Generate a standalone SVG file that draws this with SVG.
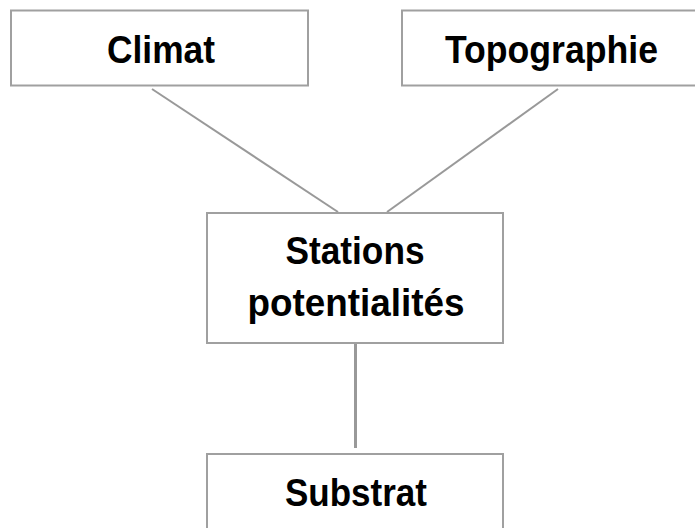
<svg xmlns="http://www.w3.org/2000/svg" width="695" height="528" viewBox="0 0 695 528">
<style>
.box{fill:#fff;stroke:#a0a0a0;stroke-width:2}
.lbl{font-family:"Liberation Sans",Arial,sans-serif;font-weight:bold;font-size:38px;fill:#000;text-anchor:middle}
.conn{stroke:#999;stroke-width:2;fill:none}
</style>
<rect width="695" height="528" fill="#fff"/>
<g id="connectors">
<line class="conn" x1="152" y1="89" x2="338" y2="212"/>
<line class="conn" x1="558" y1="89" x2="387" y2="212"/>
<line class="conn" x1="355.5" y1="339" x2="355.5" y2="448" style="stroke-width:3"/>
</g>
<g id="climat">
<rect class="box" x="11" y="10.5" width="297" height="75"/>
<text class="lbl" x="161" y="63" textLength="108" lengthAdjust="spacingAndGlyphs">Climat</text>
</g>
<g id="topographie">
<rect class="box" x="402" y="10.5" width="300" height="75"/>
<text class="lbl" x="551.5" y="63" textLength="213" lengthAdjust="spacingAndGlyphs">Topographie</text>
</g>
<g id="stations">
<rect class="box" x="207" y="213" width="296" height="130"/>
<text class="lbl" x="355" y="264" textLength="139" lengthAdjust="spacingAndGlyphs">Stations</text>
<text class="lbl" x="356" y="316" textLength="217" lengthAdjust="spacingAndGlyphs">potentialités</text>
</g>
<g id="substrat">
<rect class="box" x="207" y="454" width="296" height="90"/>
<text class="lbl" x="356" y="506" textLength="142" lengthAdjust="spacingAndGlyphs">Substrat</text>
</g>
</svg>
